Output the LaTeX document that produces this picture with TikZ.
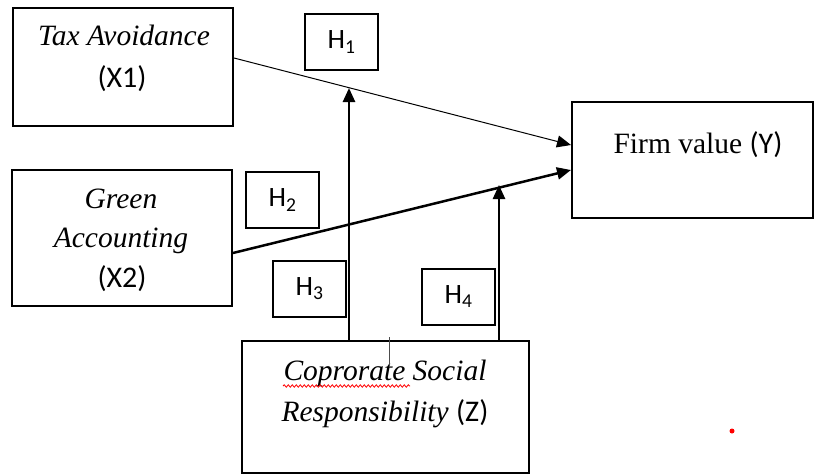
\documentclass[tikz,border=0pt]{standalone}
\usepackage{fontspec}
\setmainfont{Liberation Serif}
\newfontfamily\calibri{Carlito}
\usetikzlibrary{arrows.meta,decorations.pathmorphing}
\begin{document}
\begin{tikzpicture}[x=1pt,y=-1pt,
  box/.style={draw,line width=2pt,minimum width=#1,inner sep=0pt},
  hbox/.style={draw,line width=2pt,minimum width=73pt,minimum height=56pt,inner sep=0pt,font=\calibri\fontsize{28}{30}\selectfont},
  lbl/.style={anchor=base,inner sep=0pt,font=\fontsize{29.5}{32}\selectfont},
  sans/.style={font=\calibri\fontsize{30}{32}\selectfont},
  tip/.style={-{Triangle[length=14pt,width=12pt]}},
  thickarrow/.style={tip,line width=2.5pt},
  thinarrow/.style={tip,line width=1pt}]
\useasboundingbox (0,0) rectangle (820,474);
% main boxes
\node[box=220pt,minimum height=118pt] (x1) at (123,67) {};
\node[box=220pt,minimum height=136pt] (x2) at (122,238) {};
\node[box=241pt,minimum height=116pt] (y) at (692.5,160) {};
\node[box=287pt,minimum height=132pt] (z) at (385.5,407) {};
% hypothesis boxes
\node[hbox] (h1) at (341.5,42) {H\textsubscript{1}};
\node[hbox] (h2) at (282.5,200) {H\textsubscript{2}};
\node[hbox] (h3) at (309.5,289) {H\textsubscript{3}};
\node[hbox] (h4) at (458.5,297) {H\textsubscript{4}};
% texts
\node[lbl] (t1) at (124,45) {\itshape Tax Avoidance};
\node[lbl,sans] (t1b) at (122,87) {(X1)};
\node[lbl] (t2) at (121,208) {\itshape Green};
\node[lbl] (t2b) at (121,247) {\itshape Accounting};
\node[lbl,sans] (t2c) at (122,287) {(X2)};
\node[lbl] (ty) at (698,153) {Firm value {\calibri\fontsize{30}{32}\selectfont(Y)}};
\node[lbl] (tz) at (385,380) {\itshape Coprorate Social};
\node[lbl] (tz2) at (385,421) {{\itshape Responsibility} {\calibri\fontsize{30}{32}\selectfont(Z)}};
% connectors
\draw[thinarrow] ([yshift=9pt]x1.east) -- ([yshift=15pt]y.west);
\draw[thickarrow] ([yshift=-15pt]x2.east) -- ([yshift=-10pt]y.west);
\coordinate (m1) at (349,88);
\coordinate (m2) at (499,185);
\draw[thickarrow] (z.north -| m1) -- (m1);
\draw[thickarrow] (z.north -| m2) -- (m2);
% editor artefacts
\coordinate (cur) at (389,337);
\draw[line width=1pt,black!70] (cur) -- ++(0,30);
\coordinate (sq) at (283,386);
\draw[red,line width=0.8pt,decorate,decoration={snake,amplitude=1.2pt,segment length=4pt}] (sq) -- ++(127,0);
\fill[red] (732,431) circle (2.5pt);
\end{tikzpicture}
\end{document}
